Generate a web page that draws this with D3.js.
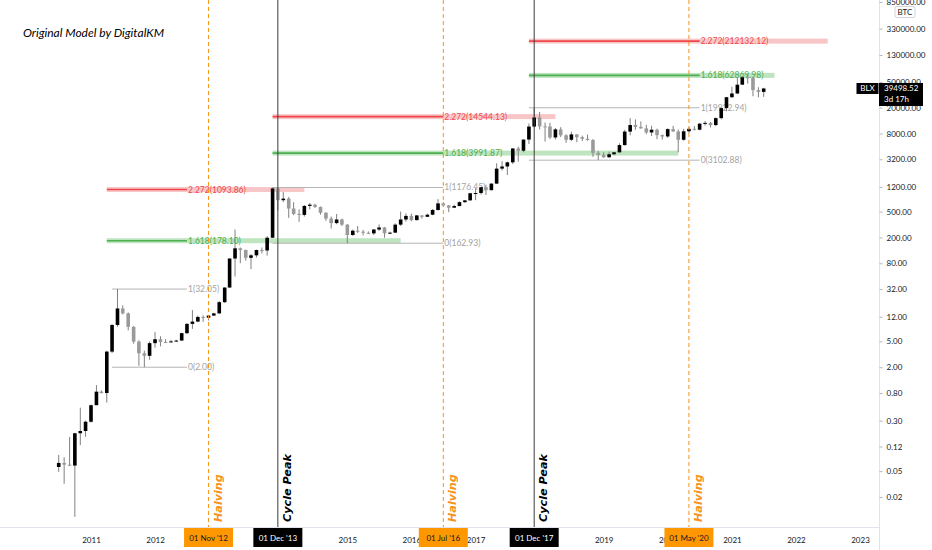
<!DOCTYPE html>
<html>
<head>
<meta charset="utf-8">
<script src="https://cdn.jsdelivr.net/npm/d3@7"></script>
<style>
    body { margin: 0; background: #fff; }
    svg { display: block; font-family: Lato, "DejaVu Sans", sans-serif; }
</style>
</head>
<body>
<svg id="chart" width="932" height="550"></svg>
<script>
// monthly BLX candles, Jul 2010 .. Jul 2021
const firstMonth = '2010-07';
const lastMonth = '2021-07';

const open = [
    0.058, 0.067, 0.063, 0.061, 0.192, 0.208,
    0.289, 0.52, 0.84, 0.80, 3.48, 8.96, 16.1, 13.5, 8.4, 4.96, 3.28, 3.0,
    4.7, 5.4, 4.9, 4.85, 5.0, 5.15, 6.7, 9.3, 10.1, 11.9, 11.6, 12.5,
    13.5, 20.1, 33.8, 94.7, 136, 128, 97, 106, 128, 126, 198, 1138,
    750, 793, 558, 460, 445, 612, 640, 590, 480, 391, 333, 378,
    315, 218, 254, 245, 236, 231, 265, 285, 232, 237, 315, 378,
    430, 370, 437, 416, 448, 530, 670, 624, 575, 609, 700, 745,
    960, 968, 1190, 1071, 1350, 2300, 2480, 2875, 4700, 4340, 6450, 10230,
    14100, 10300, 10250, 6950, 9250, 7500, 6400, 7750, 7000, 6620, 6330, 4020,
    3740, 3440, 3830, 4100, 5300, 8560, 10800, 10100, 9600, 8300, 9150, 7550,
    7200, 9350, 8600, 6400, 8650, 9450, 9150, 11350, 11650, 10780, 13800, 19700,
    29000, 33100, 45200, 58800, 57700, 37300, 35000
];
const high = [
    0.089, 0.082, 0.168, 0.195, 0.476, 0.300,
    0.53, 1.06, 0.88, 3.6, 9.2, 32.05, 18.0, 14.0, 8.6, 5.2, 3.6, 5.0,
    7.0, 6.0, 5.4, 5.3, 5.3, 6.8, 9.6, 15.2, 12.5, 12.6, 12.8, 13.8,
    21, 34, 95, 265, 140, 130, 111, 130, 140, 210, 1176.45, 1160,
    1000, 840, 700, 540, 630, 680, 660, 600, 490, 420, 460, 390,
    320, 265, 300, 260, 248, 268, 318, 290, 245, 330, 500, 470,
    465, 445, 440, 465, 550, 780, 700, 630, 640, 720, 755, 975,
    1150, 1200, 1300, 1370, 2780, 3000, 2950, 4750, 5000, 6460, 11400, 19922.94,
    17200, 11800, 11700, 9750, 10000, 7780, 8500, 7800, 7400, 7700, 6580, 4300,
    4100, 4200, 4150, 5650, 9100, 13800, 13200, 12300, 10900, 10500, 9500, 7750,
    9600, 10500, 9200, 9450, 10100, 10400, 11450, 12450, 12050, 14100, 19800, 29300,
    41900, 58300, 61700, 64800, 59500, 41300, 40500
];
const low = [
    0.049, 0.032, 0.060, 0.0099, 0.126, 0.170,
    0.28, 0.52, 0.79, 0.57, 3.3, 8.4, 13.0, 7.4, 4.6, 2.1, 2.00, 2.6,
    4.0, 4.2, 4.7, 4.8, 4.9, 5.1, 6.5, 7.8, 9.9, 10.0, 10.5, 12.3,
    13.3, 19.5, 33.5, 50, 80, 88, 65, 98, 113, 105, 196, 520,
    700, 400, 440, 347, 420, 540, 570, 450, 360, 275, 320, 300,
    162.93, 212, 235, 215, 225, 218, 252, 198, 225, 235, 300, 350,
    355, 365, 390, 412, 440, 520, 600, 490, 570, 606, 680, 742,
    750, 915, 900, 1060, 1340, 2150, 1830, 2700, 2950, 4100, 5500, 10000,
    9200, 6000, 6600, 6450, 7050, 5750, 6100, 5880, 6100, 6200, 3500, 3102.88,
    3380, 3370, 3700, 4050, 5200, 7500, 9100, 9450, 7800, 7300, 6550, 6450,
    6850, 8450, 4100, 6200, 8150, 8900, 8950, 10600, 9900, 10400, 13200, 17600,
    28200, 32400, 45000, 47000, 30000, 28800, 29300
];
const close = [
    0.067, 0.063, 0.061, 0.192, 0.208, 0.289,
    0.52, 0.84, 0.80, 3.48, 8.96, 16.1, 13.5, 8.4, 4.96, 3.28, 3.0, 4.7,
    5.4, 4.9, 4.85, 5.0, 5.15, 6.7, 9.3, 10.1, 11.9, 11.6, 12.5, 13.5,
    20.1, 33.8, 94.7, 136, 128, 97, 106, 128, 126, 198, 1138, 750,
    793, 558, 460, 445, 612, 640, 590, 480, 391, 333, 378, 315,
    218, 254, 245, 236, 231, 265, 285, 232, 237, 315, 378, 430,
    370, 437, 416, 448, 530, 670, 624, 575, 609, 700, 745, 960,
    968, 1190, 1071, 1350, 2300, 2480, 2875, 4700, 4340, 6450, 10230, 14100,
    10300, 10250, 6950, 9250, 7500, 6400, 7750, 7000, 6620, 6330, 4020, 3740,
    3440, 3830, 4100, 5300, 8560, 10800, 10100, 9600, 8300, 9150, 7550, 7200,
    9350, 8600, 6400, 8650, 9450, 9150, 11350, 11650, 10780, 13800, 19700, 29000,
    33100, 45200, 58800, 57700, 37300, 35000, 39498.52
];

// log fib extensions, one entry per cycle
const fibLevel0 = [2.00, 162.93, 3102.88];
const fibLevel1 = [32.05, 1176.45, 19922.94];
const fibLevel1618 = [178.10, 3991.87, 62869.98];
const fibLevel2272 = [1093.86, 14544.13, 212132.12];
const fibGrayStart = ['2011-05', '2013-11', '2017-11'];
const fibColorStart = ['2011-04', '2013-11', '2017-11'];
const fibEnd = ['2012-07', '2016-07', '2020-07'];
const greenBandEnd = ['2015-11', '2020-03', '2021-09'];
const redBandEnd = ['2014-05', '2018-04', '2022-07'];

// vertical markers
const eventMonths = ['2012-11', '2013-12', '2016-07', '2017-12', '2020-05'];
const eventKinds = ['Halving', 'Cycle Peak', 'Halving', 'Cycle Peak', 'Halving'];
const eventLabels = ["01 Nov '12", "01 Dec '13", "01 Jul '16", "01 Dec '17", "01 May '20"];

const priceTicks = [850000, 330000, 130000, 50000, 20000, 8000, 3200, 1200, 500, 200,
    80, 32, 12, 5, 2, 0.8, 0.3, 0.12, 0.05, 0.02];
// years left visible next to the date tags
const yearTicks = [2011, 2012, 2015, 2016, 2017, 2019, 2020, 2021, 2022, 2023];

const lastPrice = 39498.52;
const symbol = 'BLX';
const countdown = '3d 17h';

const COLORS = {
    up: '#000000',
    down: '#9a9a9a',
    wick: '#808080',
    halving: '#f7931a',
    peak: '#3c3c3c',
    gray: '#b5b5b5',
    grayText: '#a3a3a3',
    green: '#4caf50',
    greenBand: '#a9dbab',
    red: '#f0474a',
    redBand: '#f7b3b5',
    text: '#131722',
    border: '#e0e3eb'
};

const parseMonth = d3.timeParse('%Y-%m');
const svg = d3.select('#chart');
const plotRight = 879;
const axisY = 527;

const x = d3.scaleTime()
    .domain([new Date(2011, 0, 1), new Date(2023, 0, 1)])
    .range([91, 860]);
const y = d3.scaleLog()
    .domain([0.02, 850000])
    .range([497, 2]);

const months = d3.timeMonth.range(parseMonth(firstMonth), d3.timeMonth.offset(parseMonth(lastMonth), 1));
const candles = months.map((d, i) => ({date: d, o: open[i], h: high[i], l: low[i], c: close[i]}));

// fib bands and levels
const fibG = svg.append('g');
fibLevel0.forEach((v, i) => {
    const xs = x(parseMonth(fibColorStart[i]));
    const xg = x(parseMonth(fibGrayStart[i]));
    const xe = x(parseMonth(fibEnd[i]));

    fibG.append('rect')
        .attr('x', xs).attr('width', x(parseMonth(greenBandEnd[i])) - xs)
        .attr('y', y(fibLevel1618[i]) - 2.5).attr('height', 5)
        .attr('fill', COLORS.greenBand).attr('opacity', 0.75);
    fibG.append('rect')
        .attr('x', xs).attr('width', x(parseMonth(redBandEnd[i])) - xs)
        .attr('y', y(fibLevel2272[i]) - 2.5).attr('height', 5)
        .attr('fill', COLORS.redBand).attr('opacity', 0.75);

    const levels = [
        {v: fibLevel0[i], r: '0', x0: xg, color: COLORS.gray, text: COLORS.grayText, w: 1},
        {v: fibLevel1[i], r: '1', x0: xg, color: COLORS.gray, text: COLORS.grayText, w: 1},
        {v: fibLevel1618[i], r: '1.618', x0: xs, color: COLORS.green, text: COLORS.green, w: 1.6},
        {v: fibLevel2272[i], r: '2.272', x0: xs, color: COLORS.red, text: COLORS.red, w: 1.6}
    ];
    levels.forEach(l => {
        fibG.append('line')
            .attr('x1', l.x0).attr('x2', xe)
            .attr('y1', y(l.v)).attr('y2', y(l.v))
            .attr('stroke', l.color).attr('stroke-width', l.w);
        fibG.append('text')
            .attr('x', xe + 1).attr('y', y(l.v))
            .attr('dy', '0.35em')
            .attr('font-size', 8.5)
            .attr('fill', l.text)
            .text(`${l.r}(${l.v.toFixed(2)})`);
    });
});

// candles
const barW = 3.6;
const candleG = svg.append('g');
candleG.selectAll('line.wick')
    .data(candles)
    .join('line')
    .attr('class', 'wick')
    .attr('x1', d => x(d.date)).attr('x2', d => x(d.date))
    .attr('y1', d => y(d.h)).attr('y2', d => y(d.l))
    .attr('stroke', COLORS.wick).attr('stroke-width', 1);
candleG.selectAll('rect.body')
    .data(candles)
    .join('rect')
    .attr('class', 'body')
    .attr('x', d => x(d.date) - barW / 2)
    .attr('width', barW)
    .attr('y', d => y(Math.max(d.o, d.c)))
    .attr('height', d => Math.max(1, Math.abs(y(d.o) - y(d.c))))
    .attr('fill', d => d.c >= d.o ? COLORS.up : COLORS.down);

// halving / cycle peak markers
const eventG = svg.append('g');
eventMonths.forEach((m, i) => {
    const ex = x(parseMonth(m));
    const isHalving = eventKinds[i] === 'Halving';
    eventG.append('line')
        .attr('x1', ex).attr('x2', ex)
        .attr('y1', 0).attr('y2', axisY)
        .attr('stroke', isHalving ? COLORS.halving : COLORS.peak)
        .attr('stroke-width', 1)
        .attr('stroke-dasharray', isHalving ? '4,3' : null);
    eventG.append('text')
        .attr('transform', `translate(${ex + 13},522) rotate(-90)`)
        .attr('font-family', '"DejaVu Sans", sans-serif')
        .attr('font-weight', 'bold')
        .attr('font-style', 'italic')
        .attr('font-size', 11.2)
        .attr('fill', isHalving ? COLORS.halving : '#000')
        .text(eventKinds[i]);
});

// frame
svg.append('line')
    .attr('x1', 0).attr('x2', plotRight)
    .attr('y1', axisY + 0.5).attr('y2', axisY + 0.5)
    .attr('stroke', COLORS.border);
svg.append('line')
    .attr('x1', plotRight + 0.5).attr('x2', plotRight + 0.5)
    .attr('y1', 0).attr('y2', 550)
    .attr('stroke', COLORS.border);

// price axis
const yAxis = d3.axisRight(y)
    .tickValues(priceTicks)
    .tickFormat(d3.format('.2f'))
    .tickSize(3)
    .tickPadding(4);
const yAxisG = svg.append('g')
    .attr('transform', `translate(${plotRight + 0.5},0)`)
    .call(yAxis);
yAxisG.select('.domain').remove();
yAxisG.selectAll('line').attr('stroke', '#b2b5be');
yAxisG.selectAll('text').attr('font-size', 8).attr('fill', COLORS.text).attr('font-family', 'Lato, sans-serif');

// time axis
const xAxis = d3.axisBottom(x)
    .tickValues(yearTicks.map(yr => new Date(yr, 0, 1)))
    .tickFormat(d3.timeFormat('%Y'))
    .tickSize(0)
    .tickPadding(10);
const xAxisG = svg.append('g')
    .attr('transform', `translate(0,${axisY})`)
    .call(xAxis);
xAxisG.select('.domain').remove();
xAxisG.selectAll('text').attr('font-size', 8).attr('fill', COLORS.text).attr('font-family', 'Lato, sans-serif');

// event date tags on the time axis
eventMonths.forEach((m, i) => {
    const ex = x(parseMonth(m));
    const isHalving = eventKinds[i] === 'Halving';
    svg.append('rect')
        .attr('x', ex - 24.5).attr('width', 49)
        .attr('y', axisY + 1).attr('height', 19)
        .attr('fill', isHalving ? '#ff9800' : '#000');
    svg.append('text')
        .attr('x', ex).attr('y', axisY + 14)
        .attr('text-anchor', 'middle')
        .attr('font-size', 8)
        .attr('fill', isHalving ? COLORS.text : '#fff')
        .text(eventLabels[i]);
});

// last price tag
const py = y(lastPrice);
svg.append('rect')
    .attr('x', 856.5).attr('width', 22)
    .attr('y', py - 5.5).attr('height', 11)
    .attr('fill', '#000');
svg.append('text')
    .attr('x', 867.5).attr('y', py + 3)
    .attr('text-anchor', 'middle')
    .attr('font-size', 8).attr('fill', '#fff')
    .text(symbol);
svg.append('rect')
    .attr('x', plotRight).attr('width', 44)
    .attr('y', py - 5.5).attr('height', 23)
    .attr('fill', '#000');
svg.append('text')
    .attr('x', plotRight + 5).attr('y', py + 3)
    .attr('font-size', 8).attr('fill', '#fff')
    .text(d3.format('.2f')(lastPrice));
svg.append('text')
    .attr('x', plotRight + 5).attr('y', py + 14)
    .attr('font-size', 8).attr('fill', '#fff')
    .text(countdown);

// currency badge
svg.append('rect')
    .attr('x', 895).attr('y', 6.5).attr('width', 20).attr('height', 11).attr('rx', 2)
    .attr('fill', '#fff').attr('stroke', '#d1d4dc');
svg.append('text')
    .attr('x', 905).attr('y', 15)
    .attr('text-anchor', 'middle')
    .attr('font-size', 8).attr('fill', COLORS.text)
    .text('BTC');

// note
svg.append('text')
    .attr('x', 23).attr('y', 37)
    .attr('font-style', 'italic')
    .attr('font-size', 12)
    .attr('textLength', 141)
    .attr('lengthAdjust', 'spacingAndGlyphs')
    .attr('fill', '#000')
    .text('Original Model by DigitalKM');
</script>
</body>
</html>
